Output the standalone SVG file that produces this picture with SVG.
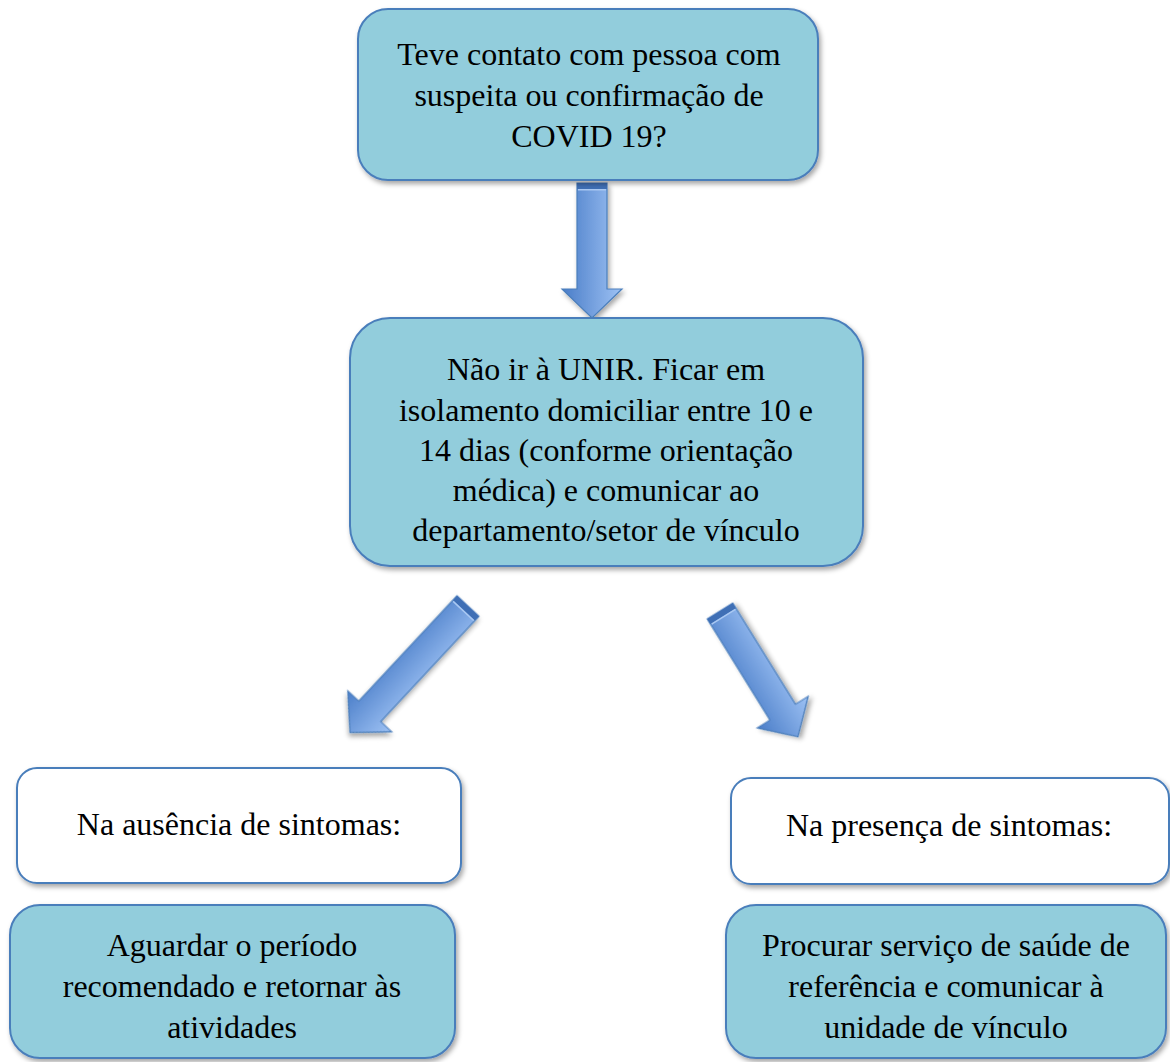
<svg xmlns="http://www.w3.org/2000/svg" width="1170" height="1062" viewBox="0 0 1170 1062">
  <defs>
    <filter id="shadow" x="-10%" y="-10%" width="125%" height="130%">
      <feDropShadow dx="2" dy="3" stdDeviation="2.5" flood-color="#000" flood-opacity="0.35"/>
    </filter>
    <linearGradient id="arrowFill" x1="-30" y1="0" x2="30" y2="0" gradientUnits="userSpaceOnUse">
      <stop offset="0" stop-color="#4A7DC8"/>
      <stop offset="1" stop-color="#9EC2F4"/>
    </linearGradient>
  </defs>
  <style>
    .box { fill: #92CDDC; stroke: #4A7EBB; stroke-width: 2; filter: url(#shadow); }
    .plain { fill: #FFFFFF; stroke: #4A7EBB; stroke-width: 2; filter: url(#shadow); }
    text { font-family: "Liberation Serif", serif; font-size: 32px; fill: #000; text-anchor: middle; }
    .arrow { fill: url(#arrowFill); stroke: #4A7EBB; stroke-width: 1.2; filter: url(#shadow); }
    .band { fill: #3F6FB5; }
    .bandLight { fill: #A9C8F2; }
  </style>

  <!-- block arrows, each drawn pointing along +y from its tail and rotated into place -->
  <g id="connectors">
    <g transform="translate(592,183)">
      <polygon class="arrow" points="-15,0 15,0 15,106 30,106 0,135 -30,106 -15,106"/>
      <rect class="band" x="-15" y="0" width="30" height="6"/>
      <rect class="bandLight" x="-14" y="6" width="28" height="1.5"/>
    </g>
    <g transform="translate(468,606) rotate(43)">
      <polygon class="arrow" points="-15,0 15,0 15,144 30,144 0,173 -30,144 -15,144"/>
      <rect class="band" x="-15" y="0" width="30" height="6"/>
      <rect class="bandLight" x="-14" y="6" width="28" height="1.5"/>
    </g>
    <g transform="translate(720,611) rotate(-31.8)">
      <polygon class="arrow" points="-15,0 15,0 15,119 30,119 0,148 -30,119 -15,119"/>
      <rect class="band" x="-15" y="0" width="30" height="6"/>
      <rect class="bandLight" x="-14" y="6" width="28" height="1.5"/>
    </g>
  </g>

  <g font-family="Liberation Serif, serif" font-size="32">
    <g id="node-question">
      <rect class="box" x="358" y="9" width="460" height="171" rx="30"/>
      <text x="589" y="65">Teve contato com pessoa com</text>
      <text x="589" y="106">suspeita ou confirmação de</text>
      <text x="589" y="147">COVID 19?</text>
    </g>

    <g id="node-isolation">
      <rect class="box" x="350" y="318" width="513" height="248" rx="40"/>
      <text x="606" y="380">Não ir à UNIR. Ficar em</text>
      <text x="606" y="421">isolamento domiciliar entre 10 e</text>
      <text x="606" y="461">14 dias (conforme orientação</text>
      <text x="606" y="501">médica) e comunicar ao</text>
      <text x="606" y="541">departamento/setor de vínculo</text>
    </g>

    <g id="node-no-symptoms">
      <rect class="plain" x="17" y="768" width="444" height="115" rx="20"/>
      <text x="239" y="835">Na ausência de sintomas:</text>
    </g>

    <g id="node-symptoms">
      <rect class="plain" x="731" y="778" width="438" height="106" rx="20"/>
      <text x="949" y="836">Na presença de sintomas:</text>
    </g>

    <g id="node-wait">
      <rect class="box" x="10" y="905" width="445" height="153" rx="30"/>
      <text x="232" y="956">Aguardar o período</text>
      <text x="232" y="997">recomendado e retornar às</text>
      <text x="232" y="1038">atividades</text>
    </g>

    <g id="node-seek-care">
      <rect class="box" x="726" y="905" width="440" height="153" rx="30"/>
      <text x="946" y="956">Procurar serviço de saúde de</text>
      <text x="946" y="997">referência e comunicar à</text>
      <text x="946" y="1038">unidade de vínculo</text>
    </g>
  </g>
</svg>
